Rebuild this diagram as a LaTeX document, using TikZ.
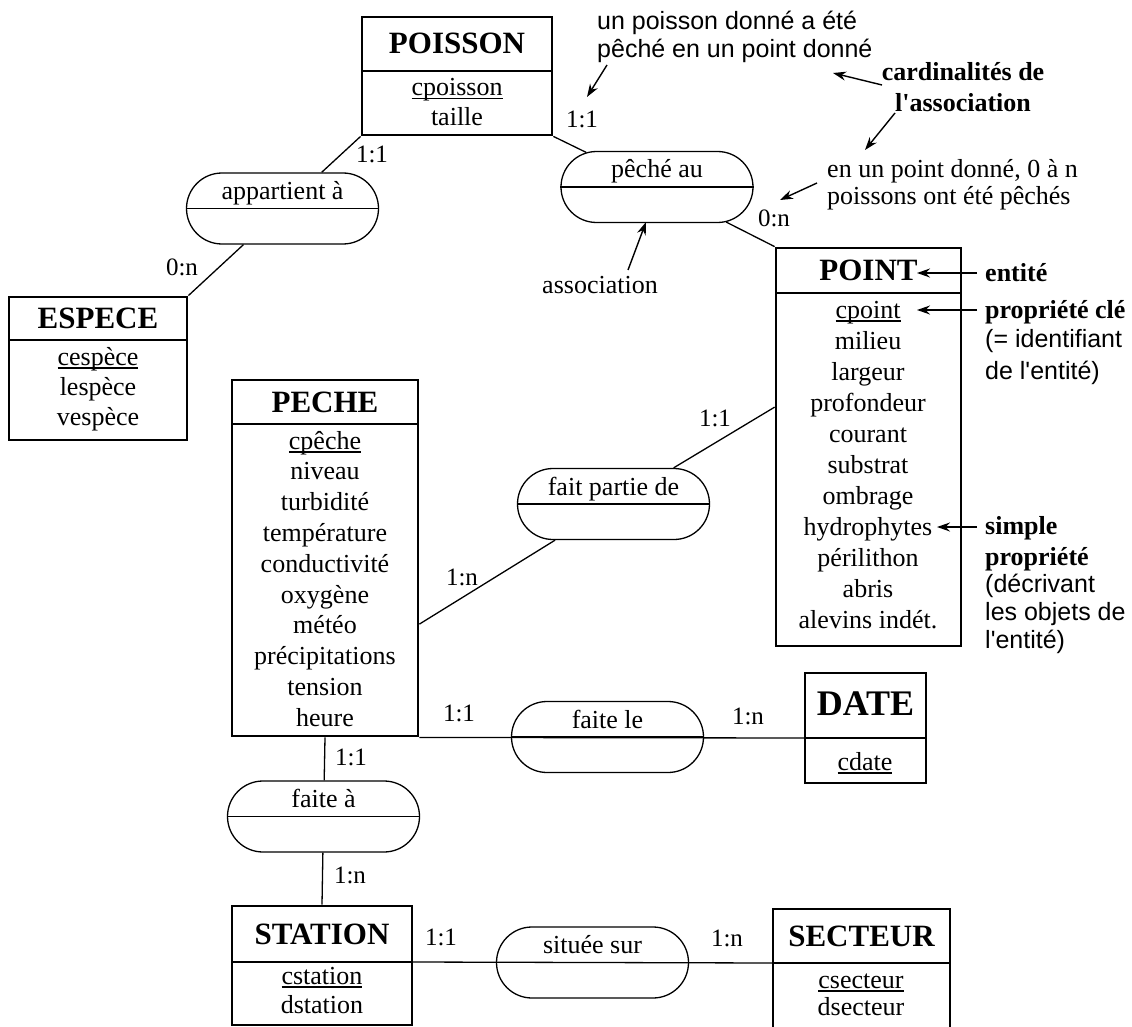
\documentclass[tikz,border=0pt]{standalone}
\usepackage{fontspec}
\setmainfont{Liberation Serif}
\setsansfont{Liberation Sans}
\usepackage{tikz}
\usetikzlibrary{positioning,fit,shapes.misc,arrows.meta}
\tikzstyle{diagram} = [x = 1pt, y = -1pt]
\tikzstyle{entityBox} = [draw, line width = 2.8pt, inner sep = 0pt]
\tikzstyle{dividerLine} = [line width = 1.8pt]
\tikzstyle{entityTitle} = [font = \fontsize{31}{36}\selectfont\bfseries, inner sep = 1pt]
\tikzstyle{attrText} = [font = \fontsize{26}{31}\selectfont, inner sep = 2pt]
\tikzstyle{assocShape} = [draw, rounded rectangle, line width = 1.3pt, minimum width = 192pt, minimum height = 71pt, inner sep = 0pt]
\tikzstyle{assocText} = [font = \fontsize{26}{31}\selectfont]
\tikzstyle{link} = [line width = 1.3pt]
\tikzstyle{cardText} = [font = \fontsize{25}{28}\selectfont, inner sep = 1pt]
\tikzstyle{noteText} = [font = \fontsize{26}{27}\selectfont, align = left, inner sep = 0pt]
\tikzstyle{noteBold} = [noteText, font = \fontsize{26}{31}\selectfont\bfseries]
\tikzstyle{noteSans} = [noteText, font = \fontsize{25}{28}\selectfont\sffamily]
\tikzstyle{noteArrow} = [line width = 1.4pt, -{Stealth[length = 13pt, width = 9pt]}]
\newcommand{\keyAttribute}[1]{\setbox0=\hbox{#1}\rlap{\rule[-3.5pt]{\wd0}{1.2pt}}\box0}
\newcommand{\entity}[7]{
  \node[entityBox, fit = {(#2,#3) (#4,#5)}] (#1) {};
  \draw[dividerLine] (#2,#6) coordinate (#1-divw) -- (#4,#6) coordinate (#1-dive);
  \node[entityTitle, anchor = base] (#1-title) at ({(#2 + #4) / 2}, {(#3 + #6) / 2 + 10}) {#7};
}
\newcommand{\attributes}[5]{
  \foreach \attr [count = \n] in {#5} {
    \node[attrText, anchor = base] (#1-attr\n) at (#2, {#3 + (\n - 1) * #4 + 8}) {\attr};
  }
}
\newcommand{\association}[4]{
  \node[assocShape] (#1) at (#2,#3) {};
  \draw[link] (#1.west) -- (#1.east);
  \node[assocText, anchor = base] (#1-label) at (#2, {#3 - 9}) {#4};
}
\newcommand{\cardinality}[4]{\node[cardText, anchor = base] (#1) at (#2, {#3 + 8}) {#4};}

\begin{document}
\begin{tikzpicture}[diagram]
        \useasboundingbox (0,0) rectangle (1132,1027);

        \entity{poisson}{362}{17}{552}{135}{71}{POISSON}
        \attributes{poisson}{457}{88}{30}{\keyAttribute{cpoisson}, taille}
        \entity{espece}{9}{297}{187}{440}{340}{ESPECE}
        \attributes{espece}{98}{357}{30}{\keyAttribute{cespèce}, lespèce, vespèce}
        \entity{peche}{232}{380}{418}{736}{424}{PECHE}
        \attributes{peche}{325}{441}{30.8}{\keyAttribute{cpêche}, niveau, turbidité, température, conductivité, oxygène, météo, précipitations, tension, heure}
        \entity{point}{776}{248}{961}{646}{293}{POINT}
        \attributes{point}{868}{310}{31}{\keyAttribute{cpoint}, milieu, largeur, profondeur, courant, substrat, ombrage, hydrophytes, périlithon, abris, alevins indét.}
        \entity{date}{805}{673}{926}{783}{738}{{\fontsize{36}{40}\selectfont DATE}}
        \attributes{date}{865}{762}{30}{\keyAttribute{cdate}}
        \entity{station}{232}{906}{412}{1025}{962}{STATION}
        \attributes{station}{322}{976}{29}{\keyAttribute{cstation}, dstation}
        \entity{secteur}{773}{909}{950}{1045}{963}{SECTEUR}
        \attributes{secteur}{861}{980}{27}{\keyAttribute{csecteur}, dsecteur}

        \association{appartient}{282.5}{208.5}{appartient à}
        \association{pecheAu}{657}{187}{pêché au}
        \association{faitPartie}{613.5}{504}{fait partie de}
        \association{faiteLe}{607.5}{737}{faite le}
        \association{faiteA}{323.5}{816.5}{faite à}
        \association{situeeSur}{592.5}{962.5}{située sur}

        \draw[link] (poisson.south west) -- (appartient);
        \draw[link] (appartient) -- (espece.north east);
        \draw[link] (poisson.south east) -- (pecheAu);
        \draw[link] (pecheAu) -- (point.north west);
        \draw[link] (point.157) -- (faitPartie);
        \draw[link] (faitPartie) -- (peche.-35);
        \draw[link] (peche.south east) -- (date-divw);
        \draw[link] (peche.south) -- (faiteA);
        \draw[link] (faiteA) -- (station.north);
        \draw[link] (station-dive) -- (secteur-divw);

        \cardinality{cardPoissonAppart}{372}{155}{1:1}
        \cardinality{cardEspeceAppart}{182}{267}{0:n}
        \cardinality{cardPoissonPeche}{582}{120}{1:1}
        \cardinality{cardPointPeche}{774}{218}{0:n}
        \cardinality{cardPointPartie}{715}{418}{1:1}
        \cardinality{cardPechePartie}{462}{577}{1:n}
        \cardinality{cardPecheDate}{459}{713}{1:1}
        \cardinality{cardDatePeche}{748}{716}{1:n}
        \cardinality{cardPecheStation}{351}{757}{1:1}
        \cardinality{cardStationPeche}{350}{875}{1:n}
        \cardinality{cardStationSecteur}{441}{937}{1:1}
        \cardinality{cardSecteurStation}{727}{938}{1:n}

        \node[noteSans, anchor = north west] (noteFish) at (597,11) {un poisson donné a été\\pêché en un point donné};
        \node[noteBold, align = center] (noteCard) at (963,87) {cardinalités de\\l\textquotesingle association};
        \node[noteText, anchor = north west] (notePoint) at (827,159) {en un point donné, 0 à n\\poissons ont été pêchés};
        \node[noteText, anchor = base] (noteAssoc) at (600,293) {association};
        \node[noteBold, anchor = base west] (noteEntite) at (985,281) {entité};
        \node[noteBold, anchor = base west] (noteCle) at (985,318) {propriété clé};
        \node[noteSans, anchor = north west, font = \fontsize{25}{32}\selectfont\sffamily] (noteCleDesc) at (985,329) {(= identifiant\\de l\textquotesingle entité)};
        \node[noteBold, anchor = north west] (noteSimple) at (985,516) {simple\\propriété};
        \node[noteSans, anchor = north west] (noteSimpleDesc) at (985,574) {(décrivant\\les objets de\\l\textquotesingle entité)};

        \coordinate (fishFrom) at (607,65);
        \coordinate (fishTo) at (587,97);
        \coordinate (cardFromA) at (882,85);
        \coordinate (cardToA) at (833,73);
        \coordinate (cardFromB) at (895,113);
        \coordinate (cardToB) at (865,150);
        \coordinate (pointFrom) at (817,183);
        \coordinate (pointTo) at (780,200);
        \coordinate (assocFrom) at (628,270);
        \coordinate (assocTo) at (646,222);
        \coordinate (entiteFrom) at (977,273);
        \coordinate (entiteTo) at (917,273);
        \coordinate (cleFrom) at (977,310);
        \coordinate (cleTo) at (917,310);
        \coordinate (simpleFrom) at (977,527);
        \coordinate (simpleTo) at (937,527);
        \draw[noteArrow] (fishFrom) -- (fishTo);
        \draw[noteArrow] (cardFromA) -- (cardToA);
        \draw[noteArrow] (cardFromB) -- (cardToB);
        \draw[noteArrow] (pointFrom) -- (pointTo);
        \draw[noteArrow] (assocFrom) -- (assocTo);
        \draw[noteArrow] (entiteFrom) -- (entiteTo);
        \draw[noteArrow] (cleFrom) -- (cleTo);
        \draw[noteArrow] (simpleFrom) -- (simpleTo);
      \end{tikzpicture}
\end{document}
